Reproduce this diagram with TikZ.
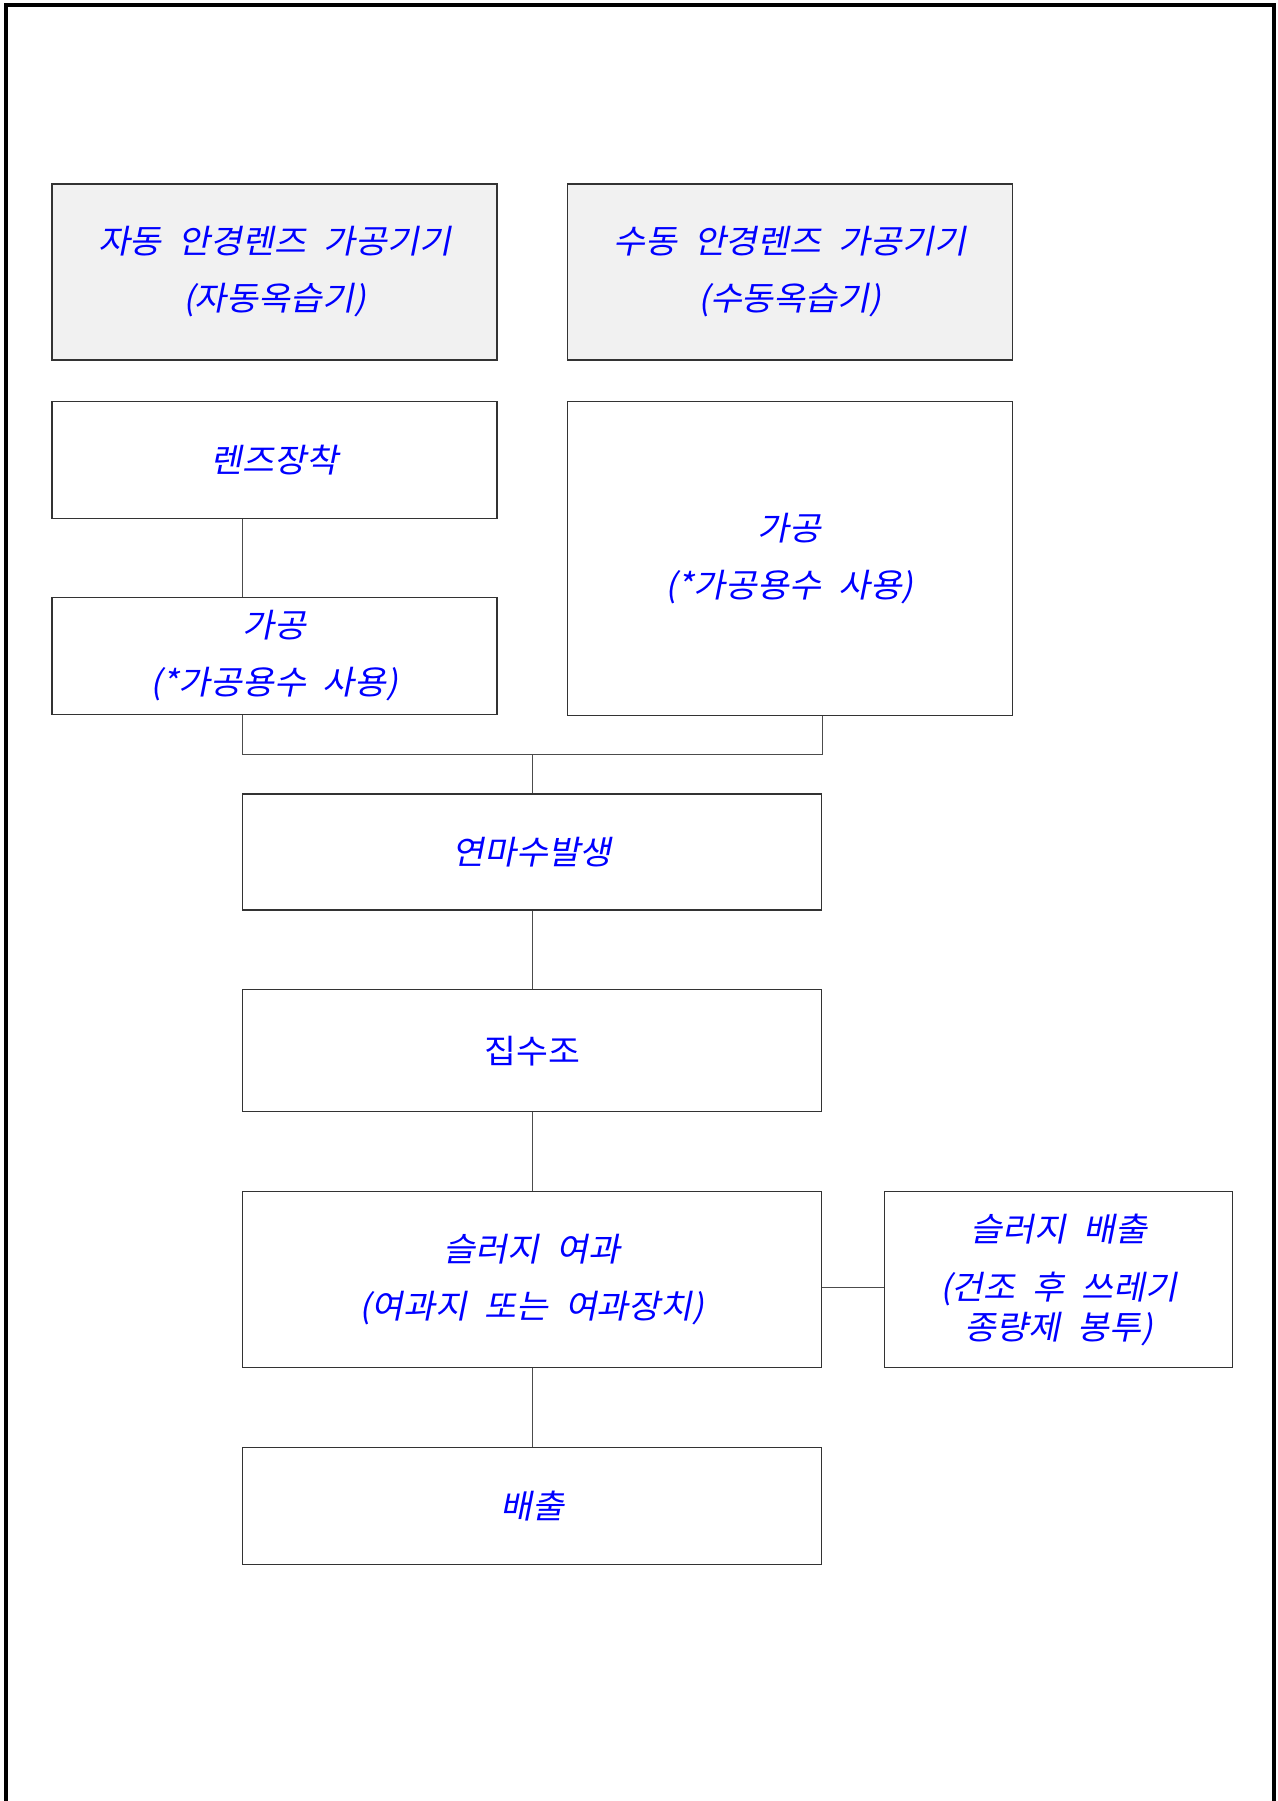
\documentclass[tikz,border=0pt]{standalone}
\usepackage{fontspec}
\newfontfamily\kosl[FakeSlant=0.2,FakeStretch=1.05,WordSpace=2.2]{Noto Sans CJK KR}
\newfontfamily\koup[FakeStretch=1.05,WordSpace=2.2]{Noto Sans CJK KR}
\usetikzlibrary{positioning,calc}
\definecolor{boxgray}{RGB}{241,241,241}
\begin{document}
\begin{tikzpicture}[x=0.5pt,y=-0.5pt,
  main/.style = {draw=black!80, line width=0.6pt, rectangle, align=center, text=blue, inner sep=0pt, font=\kosl\fontsize{16.5pt}{28.5pt}\selectfont},
  wide/.style = {main, minimum width=222.5pt},
  mid/.style = {main, minimum width=289.5pt},
  link/.style = {draw=black!70, line width=0.5pt}]
\useasboundingbox (0,0) rectangle (1278,1801);
\draw[line width=1.75pt] (6,1801) -- (6,5) -- (1274,5) -- (1274,1801);
\node[wide] (auto) [fill=boxgray, minimum height=88pt] at (274.5,272) {자동 안경렌즈 가공기기\\(자동옥습기)};
\node[wide] (manual) [right=34.5pt of auto, fill=boxgray, minimum height=88pt] {수동 안경렌즈 가공기기\\(수동옥습기)};
\node[wide] (lens) [below=20pt of auto, minimum height=58.5pt] {렌즈장착};
\node[wide] (procL) [below=39pt of lens, minimum height=58.5pt] {가공\\(*가공용수 사용)};
\node[wide] (procR) [below=20pt of manual, minimum height=157pt] {가공\\(*가공용수 사용)};
\coordinate (mid) at ($(procL.south)!0.5!(procR.south)$);
\node[mid] (grind) [below=39pt of mid, minimum height=58pt] {연마수발생};
\node[mid] (tank) [below=39.3pt of grind, minimum height=61pt, font=\koup\fontsize{16.5pt}{28.5pt}\selectfont] {집수조};
\node[mid] (filter) [below=39.3pt of tank, minimum height=88pt] {슬러지 여과\\(여과지 또는 여과장치)};
\node[main] (sludge) [right=31pt of filter, minimum width=174pt, minimum height=88pt, font=\kosl\fontsize{16.5pt}{20pt}\selectfont] {슬러지 배출\\[9pt](건조 후 쓰레기\\종량제 봉투)};
\node[mid] (drain) [below=39.5pt of filter, minimum height=58.5pt] {배출};
\coordinate (join) at ($(procL.south)!0.5!(grind.north)$);
\draw[link] (lens.south -| grind.west) -- (procL.north -| grind.west);
\draw[link] (procL.south -| grind.west) |- (join -| grind.east) -- (procR.south -| grind.east);
\draw[link] (grind.north) -- (grind.north |- join);
\draw[link] (grind) -- (tank);
\draw[link] (tank) -- (filter);
\draw[link] (filter) -- (drain);
\draw[link] ([yshift=-3.75pt]filter.east) -- ([yshift=-3.75pt]sludge.west);
\end{tikzpicture}
\end{document}
